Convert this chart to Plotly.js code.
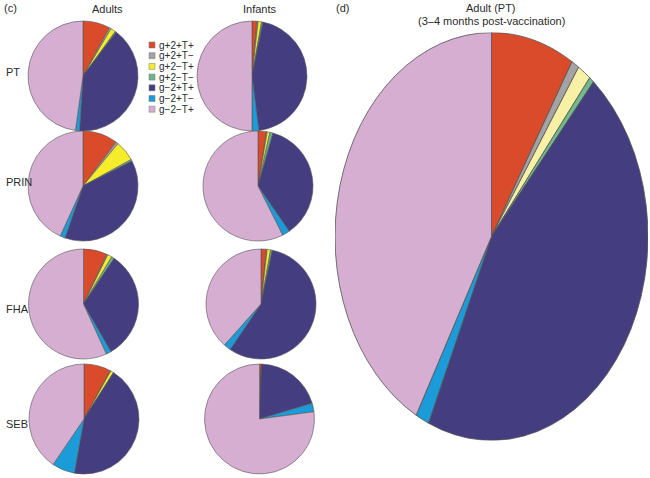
<!DOCTYPE html>
<html>
<head>
<meta charset="utf-8">
<script src="https://cdn.plot.ly/plotly-3.0.1.min.js"></script>
<style>
  html, body { margin: 0; padding: 0; background: #fff; }
  #main { position: absolute; left: 0; top: 0; width: 650px; height: 478px; }
  #big { position: absolute; left: 335px; top: 79.5px; width: 313px; height: 313px;
         transform: scaleY(1.303); transform-origin: 50% 50%; }
</style>
</head>
<body>
<div id="main"></div>
<div id="big"></div>
<script>
// ---- data ----
const labels = ['g+2+T+', 'g+2+T−', 'g+2−T+', 'g+2−T−', 'g−2+T+', 'g−2+T−', 'g−2−T+'];
const colorsSmall = ['#d94b2b', '#a3a3a3', '#f5ec2c', '#6db58b', '#443d80', '#1b9bd7', '#d5aed1'];
const colorsBig   = ['#d94b2b', '#a3a3a3', '#f8f1a5', '#72ba8d', '#443d80', '#1b9bd7', '#d5aed1'];

const groups = ['Adults', 'Infants'];
const antigens = ['PT', 'PRIN', 'FHA', 'SEB'];

const adultsPT    = [8.0, 0.5, 1.5, 0.3, 40.7, 1.2, 47.8];
const adultsPRIN  = [10.3, 0.7, 6.0, 0.5, 37.8, 1.5, 43.2];
const adultsFHA   = [7.0, 0.3, 1.3, 0.8, 32.3, 1.5, 56.8];
const adultsSEB   = [7.9, 0.2, 0.9, 0.1, 43.7, 6.7, 40.5];

const infantsPT   = [1.5, 0.3, 1.0, 0.4, 44.8, 2.0, 50.0];
const infantsPRIN = [2.5, 0.2, 0.8, 0.9, 36.0, 2.2, 57.4];
const infantsFHA  = [1.6, 0.2, 1.0, 0.5, 56.2, 2.1, 38.4];
const infantsSEB  = [0.6, 0.0, 0.0, 0.0, 19.8, 2.5, 77.1];

const adultPTpost = [8.6, 0.8, 1.4, 0.5, 45.3, 1.4, 42.0];

const bigTitle = 'Adult (PT)';
const bigSubtitle = '(3–4 months post-vaccination)';

// ---- layout helpers ----
const W = 650, H = 478;
const font = 'Liberation Sans, Arial, Helvetica, sans-serif';
const txtColor = '#2b2b2b';

const seriesGrid = [
  [adultsPT, infantsPT],
  [adultsPRIN, infantsPRIN],
  [adultsFHA, infantsFHA],
  [adultsSEB, infantsSEB]
];
const colCx = [[83, 252], [83, 258], [83.5, 261], [84, 259.5]];
const rowCy = [76, 186, 304, 419];
const R = 55;

function dom(cx, cy, r) {
  return {
    x: [(cx - r) / W, (cx + r) / W],
    y: [(H - (cy + r)) / H, (H - (cy - r)) / H]
  };
}

const pieLine = { color: '#555555', width: 0.6 };
const traces = [];
seriesGrid.forEach((row, ri) => {
  row.forEach((vals, ci) => {
    traces.push({
      type: 'pie',
      name: groups[ci] + ' ' + antigens[ri],
      labels: labels,
      values: vals,
      sort: false,
      direction: 'clockwise',
      rotation: 0,
      textinfo: 'none',
      hoverinfo: 'label+percent',
      showlegend: false,
      marker: { colors: colorsSmall, line: pieLine },
      domain: dom(colCx[ri][ci], rowCy[ri], R)
    });
  });
});

const annotations = [];
function ann(text, x, y, size, xanchor) {
  annotations.push({
    text: text, x: x / W, y: 1 - y / H, xref: 'paper', yref: 'paper',
    xanchor: xanchor || 'center', yanchor: 'middle', showarrow: false,
    font: { family: font, size: size, color: txtColor }
  });
}
ann('(c)', 2, 8, 11, 'left');
ann(groups[0], 107, 9, 11);
ann(groups[1], 260, 9, 11);
ann('(d)', 334, 8, 11, 'left');
ann(bigTitle, 491, 8, 11);
ann(bigSubtitle, 491, 21, 11);
const rowLabelY = [72, 182, 309, 424];
antigens.forEach((a, i) => ann(a, 4, rowLabelY[i], 11, 'left'));

// legend
const shapes = [];
labels.forEach((lab, i) => {
  const y = 45 + i * 10.7;
  ann(lab, 157, y, 10, 'left');
  shapes.push({
    type: 'rect', xref: 'paper', yref: 'paper',
    x0: 149 / W, x1: 155 / W, y0: 1 - (y + 3) / H, y1: 1 - (y - 3) / H,
    fillcolor: colorsSmall[i], line: { color: '#777', width: 0.5 }
  });
});

Plotly.newPlot('main', traces, {
  width: W, height: H,
  margin: { l: 0, r: 0, t: 0, b: 0 },
  paper_bgcolor: '#ffffff',
  showlegend: false,
  annotations: annotations,
  shapes: shapes
}, { staticPlot: true, displayModeBar: false });

Plotly.newPlot('big', [{
  type: 'pie',
  name: bigTitle,
  labels: labels,
  values: adultPTpost,
  sort: false,
  direction: 'clockwise',
  rotation: 0,
  textinfo: 'none',
  showlegend: false,
  marker: { colors: colorsBig, line: { color: '#555555', width: 0.7 } },
  domain: { x: [0, 1], y: [0, 1] }
}], {
  width: 313, height: 313,
  margin: { l: 0, r: 0, t: 0, b: 0 },
  paper_bgcolor: 'rgba(0,0,0,0)',
  showlegend: false
}, { staticPlot: true, displayModeBar: false });
</script>
</body>
</html>
